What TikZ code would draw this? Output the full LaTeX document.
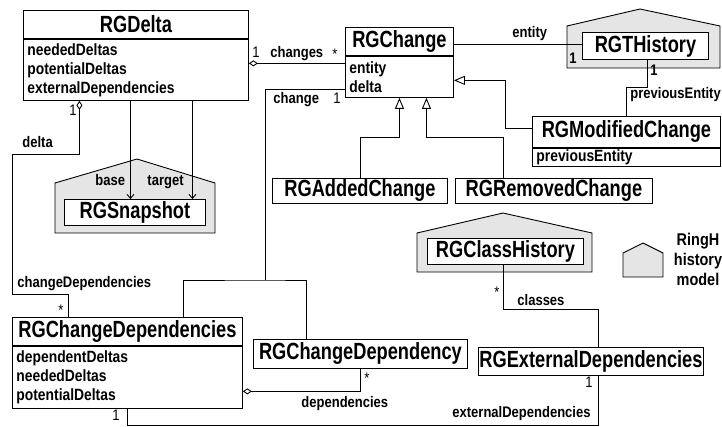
\documentclass[tikz,border=0pt]{standalone}
\usepackage{fontspec}
\setmainfont{Liberation Sans}[FakeStretch=0.85]
\newfontfamily\clsfam{Liberation Sans}[FakeStretch=0.78]
\usepackage{tikz}
\usetikzlibrary{arrows.meta,positioning}

\newcommand\clsfont{\clsfam\fontsize{23.4}{26}\selectfont\bfseries}
\newcommand\attfont{\fontsize{16.3}{19}\selectfont\bfseries}
\newcommand\lblfont{\fontsize{15.3}{18}\selectfont\bfseries}
\newcommand\mulfont{\fontsize{15.3}{18}\selectfont}

\begin{document}
\begin{tikzpicture}[x=1pt,y=-1pt,line width=0.9pt,
    cls/.style={draw,fill=white,font=\clsfont,anchor=north west,inner sep=0pt,minimum height=28pt},
    attr/.style={draw,fill=white,font=\attfont,align=left,anchor=north,inner xsep=4pt,inner ysep=0pt},
    pkg/.style={draw,fill=black!10},
    lbl/.style={font=\lblfont,inner sep=0pt,anchor=base west},
    mul/.style={font=\mulfont,inner sep=0pt,anchor=base west},
    aggr/.style={{Diamond[fill=white,length=9pt,width=6pt]}-},
    inh/.style={-{Triangle[fill=white,length=11pt,width=9pt]}},
    nav/.style={-{Straight Barb[length=4pt,width=7pt]}}]
    \useasboundingbox (0,0) rectangle (722,426);

    \draw[pkg] (567,68) -- (567,26) -- (640,9) -- (720,26) -- (720,68) -- cycle;
    \draw[pkg] (55,233) -- (55,183) -- (137,159) -- (215,183) -- (215,233) -- cycle;
    \draw[pkg] (417,272) -- (417,233) -- (503,213) -- (592,233) -- (592,272) -- cycle;
    \draw[pkg] (623,277) -- (623,253) -- (643,243) -- (663,253) -- (663,277) -- cycle;

    \node[cls,minimum width=225pt] (delta) at (23,10) {RGDelta};
    \node[attr,below=0pt of delta,text width=217pt,minimum height=61pt] (delta-a) {neededDeltas\\potentialDeltas\\externalDependencies};
    \node[cls,minimum width=108pt] (chg) at (345,27) {RGChange};
    \node[attr,below=0pt of chg,text width=100pt,minimum height=41pt] (chg-a) {entity\\delta};
    \node[cls,minimum width=126pt,minimum height=27pt] (thist) at (582,32) {RGTHistory};
    \node[cls,minimum width=188pt,minimum height=31pt] (modc) at (532,116) {RGModifiedChange};
    \node[attr,below=0pt of modc,text width=180pt,minimum height=18pt] (modc-a) {previousEntity};
    \node[cls,minimum width=175pt,minimum height=25pt] (added) at (272,178) {RGAddedChange};
    \node[cls,minimum width=197pt,minimum height=25pt] (removed) at (455,178) {RGRemovedChange};
    \node[cls,minimum width=141pt,minimum height=26pt] (snap) at (64,199) {RGSnapshot};
    \node[cls,minimum width=156pt,minimum height=26pt] (chist) at (427,238) {RGClassHistory};
    \node[cls,minimum width=230pt] (cdeps) at (12,317) {RGChangeDependencies};
    \node[attr,below=0pt of cdeps,text width=222pt,minimum height=62pt] (cdeps-a) {dependentDeltas\\neededDeltas\\potentialDeltas};
    \node[cls,minimum width=214pt,minimum height=29pt] (cdep) at (253,339) {RGChangeDependency};
    \node[cls,minimum width=225pt] (extdeps) at (478,347) {RGExternalDependencies};
    \node[font=\fontsize{17}{20}\selectfont\bfseries,align=center,inner sep=0pt] (key) at (698,259) {RingH\\history\\model};

    \coordinate (jn) at (265,280);

    \draw[aggr] ([yshift=6.5pt]delta-a.east) -- ([yshift=6.5pt]delta-a.east -| chg-a.west);
    \draw ([yshift=-3pt]chg.east) -- ([yshift=-3pt]chg.east -| thist.west);
    \draw ([yshift=-12.5pt]chg-a.west) -| (jn);
    \draw ([xshift=56pt]cdeps.north) |- (jn) -| ([xshift=-54pt]cdep.north);
    \draw[aggr] ([xshift=-56.5pt]delta-a.south) -- ++(0,54) -| (12,294) -| ([xshift=-59pt]cdeps.north);
    \draw[nav] ([xshift=-5.5pt]delta-a.south) -- ([xshift=-5.5pt]delta-a.south |- snap.north);
    \draw[nav] ([xshift=56.5pt]delta-a.south) -- ([xshift=56.5pt]delta-a.south |- snap.north);
    \draw ([xshift=2pt]thist.south) -- ++(0,28) -| (modc.north);
    \draw[inh] ([yshift=3.5pt]modc.west) -- ++(-27,0) |- ([yshift=-3.5pt]chg-a.east);
    \draw[inh] (added.north) -- ++(0,-41) -| (chg-a.south);
    \draw[inh] ([xshift=-50.5pt]removed.north) -- ++(0,-41) -| ([xshift=27pt]chg-a.south);
    \draw[aggr] ([yshift=-14pt]cdeps-a.east) -| (cdep.south);
    \draw ([xshift=-2pt]chist.south) -- ++(0,45) -| ([xshift=7.5pt]extdeps.north);
    \draw ([xshift=7.5pt]extdeps.south) -- ++(0,50) -| (cdeps-a.south);

    \node[mul] (m1) at (252,57) {1};
    \node[lbl] (l1) at (270,57) {changes};
    \node[mul] (m2) at (332,59) {*};
    \node[lbl] (l2) at (512,37) {entity};
    \node[lbl] (m3) at (569,63) {1};
    \node[lbl] (m4) at (650,75) {1};
    \node[lbl] (l3) at (630,98) {previousEntity};
    \node[lbl] (l4) at (273,103) {change};
    \node[mul] (m5) at (333,103) {1};
    \node[mul] (m6) at (69,115) {1};
    \node[lbl] (l5) at (22,147) {delta};
    \node[lbl] (l6) at (95,185) {base};
    \node[lbl] (l7) at (147,185) {target};
    \node[lbl] (l8) at (17,287) {changeDependencies};
    \node[mul] (m7) at (58,315) {*};
    \node[lbl] (l9) at (301,407) {dependencies};
    \node[mul] (m8) at (364,383) {*};
    \node[lbl] (l10) at (517,305) {classes};
    \node[mul] (m9) at (494,297) {*};
    \node[mul] (m10) at (585,387) {1};
    \node[lbl] (l11) at (452,417) {externalDependencies};
    \node[mul] (m11) at (112,420) {1};
\end{tikzpicture}
\end{document}
